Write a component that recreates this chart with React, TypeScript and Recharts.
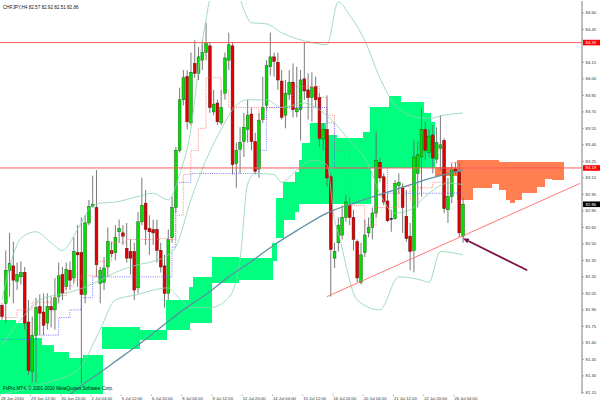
import React from "react";
import { ComposedChart, Bar, Line, XAxis, YAxis, ReferenceLine } from "recharts";

const SYMBOL_INFO = "CHFJPY,H4  82.57 82.92 82.51 82.86";
const COPYRIGHT = "FxPro MT4, © 2001-2010 MetaQuotes Software Corp.";
const FONT = "'Liberation Sans', Arial, sans-serif";
const CHART_W = 600;
const CHART_H = 404;

// H4 candles, oldest first
const opens = [
  81.94, 81.96, 82.26, 82.3, 82.16, 82.2, 82.24, 81.79, 81.34, 81.67, 81.93, 81.88, 81.78, 81.93, 81.9, 82.02,
  82.22, 82.11, 82.26, 82.19, 82.42, 82.42, 82.04, 82.69, 82.84, 82.83, 82.14, 82.15, 82.29, 82.44, 82.42, 82.61,
  82.6, 82.46, 82.43, 82.43, 82.1, 82.7, 82.87, 82.64, 82.63, 82.63, 82.44, 82.3, 82.05, 82.56, 82.83, 83.35,
  83.81, 84.02, 83.6, 84.14, 84.05, 84.17, 84.24, 84.3, 83.7, 83.78, 83.6, 83.87, 84.17, 84.3, 83.23, 83.36,
  83.43, 83.54, 83.68, 83.43, 83.18, 83.63, 83.76, 84.11, 84.2, 84.15, 83.98, 83.67, 83.86, 83.97, 83.7, 83.72,
  84.0, 83.9, 83.83, 83.93, 83.83, 83.45, 83.54, 83.11, 82.37, 82.51, 82.58, 82.74, 82.85, 82.74, 82.52, 82.15,
  82.42, 82.6, 82.65, 82.78, 83.24, 83.11, 82.89, 82.73, 82.73, 83.03, 83.01, 82.75, 82.57, 82.44, 83.14, 83.29,
  83.54, 83.33, 83.49, 83.27, 83.37, 83.44, 82.81, 82.93, 83.18, 83.15, 82.57,
];
const highs = [
  81.96, 82.44, 82.6, 82.52, 82.33, 82.34, 82.29, 81.99, 81.84, 82.01, 82.04, 82.05, 82.05, 82.02, 82.19, 82.33,
  82.29, 82.33, 82.34, 82.56, 82.67, 82.74, 82.76, 82.9, 83.12, 83.17, 82.29, 82.38, 82.65, 82.52, 82.67, 82.72,
  82.67, 82.69, 82.54, 82.51, 82.79, 83.1, 82.99, 82.76, 82.72, 82.72, 82.51, 82.4, 82.63, 82.93, 83.38, 83.92,
  84.08, 84.08, 84.24, 84.35, 84.29, 84.35, 84.51, 84.33, 83.9, 83.81, 83.9, 84.24, 84.42, 84.33, 83.42, 83.56,
  83.69, 83.81, 83.74, 83.51, 83.69, 84.02, 84.17, 84.42, 84.24, 84.24, 84.08, 83.99, 84.08, 84.14, 84.11, 84.08,
  84.33, 84.05, 84.06, 84.02, 83.87, 83.6, 83.85, 83.14, 82.51, 82.74, 82.85, 82.94, 82.92, 82.81, 82.54, 82.51,
  82.72, 82.74, 82.83, 83.52, 83.28, 83.14, 82.96, 82.81, 83.08, 83.14, 83.05, 82.99, 82.69, 83.44, 83.43, 83.74,
  83.61, 83.54, 83.58, 83.56, 83.67, 83.46, 83.1, 83.23, 83.24, 83.24, 82.92,
];
const lows = [
  81.81, 81.78, 82.02, 81.96, 82.08, 82.13, 81.72, 81.31, 81.24, 81.24, 81.67, 81.67, 81.72, 81.74, 81.72, 81.96,
  81.99, 82.08, 82.08, 82.14, 82.11, 81.23, 81.96, 82.67, 82.83, 82.2, 81.96, 82.08, 82.2, 82.38, 82.35, 82.51,
  82.49, 82.33, 82.22, 81.99, 82.05, 82.67, 82.49, 82.4, 82.49, 82.33, 82.24, 81.92, 81.99, 82.51, 82.78, 83.33,
  83.76, 83.54, 83.58, 84.01, 83.99, 84.08, 84.17, 83.69, 83.67, 83.58, 83.58, 83.81, 84.08, 83.13, 83.01, 83.14,
  83.29, 83.42, 83.35, 83.13, 83.1, 83.6, 83.72, 84.03, 84.02, 83.9, 83.63, 83.55, 83.81, 83.65, 83.65, 83.44,
  83.81, 83.63, 83.61, 83.74, 83.38, 83.35, 83.02, 82.02, 82.28, 82.43, 82.54, 82.7, 82.67, 82.44, 82.15, 82.13,
  82.38, 82.56, 82.54, 82.74, 83.06, 82.85, 82.7, 82.61, 82.72, 82.96, 82.6, 82.52, 82.26, 82.24, 82.83, 82.93,
  83.26, 83.29, 83.14, 83.23, 83.17, 82.78, 82.69, 82.87, 83.13, 82.56, 82.51,
];
const closes = [
  81.84, 82.26, 82.32, 82.17, 82.22, 82.24, 81.78, 81.35, 81.67, 81.92, 81.87, 81.76, 81.93, 81.9, 82.01, 82.21,
  82.05, 82.27, 82.17, 82.43, 82.4, 82.04, 82.69, 82.84, 82.86, 82.31, 82.26, 82.28, 82.52, 82.41, 82.56, 82.64,
  82.57, 82.37, 82.37, 82.08, 82.7, 82.85, 82.63, 82.61, 82.6, 82.44, 82.29, 82.05, 82.54, 82.83, 83.35, 83.81,
  84.01, 83.61, 84.06, 84.05, 84.2, 84.24, 84.32, 83.74, 83.77, 83.61, 83.74, 84.19, 84.31, 83.22, 83.35, 83.42,
  83.56, 83.67, 83.43, 83.16, 83.62, 83.74, 84.12, 84.2, 84.16, 83.99, 83.65, 83.87, 83.97, 83.72, 83.73, 83.99,
  83.89, 83.83, 83.92, 83.81, 83.46, 83.54, 83.1, 82.45, 82.43, 82.67, 82.74, 82.88, 82.74, 82.54, 82.19, 82.4,
  82.58, 82.65, 82.78, 83.26, 83.1, 82.88, 82.71, 82.73, 83.05, 83.06, 82.83, 82.55, 82.43, 83.29, 83.31, 83.54,
  83.35, 83.48, 83.28, 83.42, 83.4, 82.82, 82.93, 83.17, 83.16, 82.6, 82.86,
];

// one time label every 8 bars
const timeLabels = [
  "28 Jun 2010", "29 Jun 12:00", "30 Jun 20:00", "2 Jul 04:00", "5 Jul 12:00", "6 Jul 20:00", "8 Jul 04:00",
  "9 Jul 12:00", "12 Jul 20:00", "14 Jul 04:00", "15 Jul 12:00", "16 Jul 20:00", "20 Jul 04:00", "21 Jul 12:00",
  "22 Jul 20:00", "26 Jul 04:00",
];
const LABEL_EVERY = 8;

const priceTicks = [
  84.6, 84.45, 84.15, 84.0, 83.85, 83.7, 83.55, 83.4, 83.25, 83.1, 82.95, 82.8, 82.65, 82.5, 82.35, 82.2, 82.05,
  81.9, 81.75, 81.6, 81.45, 81.3, 81.15,
];

const resistanceLevel = 84.33;
const supportLevel = 83.19;
const lastPrice = 82.86;

// Ichimoku cloud, already shifted 26 bars ahead: [first bar, upper edge, lower edge]
const cloudUp = [
  [0, 81.81, 81.0], [4, 81.78, 81.0], [7, 81.64, 81.0], [11, 81.58, 81.0], [14, 81.52, 81.0], [18, 81.46, 81.0],
  [22, 81.49, 81.0], [27, 81.74, 81.54], [37, 81.72, 81.63], [44, 81.99, 81.72], [50, 82.11, 81.78],
  [51, 82.2, 81.78], [56, 82.38, 82.14], [63, 82.37, 82.17], [72, 82.51, 82.34], [73, 82.92, 82.55],
  [75, 83.06, 82.72], [78, 83.15, 82.79], [79, 83.26, 82.86], [80, 83.42, 82.86], [82, 83.6, 82.86],
  [86, 83.49, 82.86], [89, 83.46, 82.86], [96, 83.52, 82.86], [98, 83.74, 83.19], [103, 83.84, 83.19],
  [106, 83.79, 83.19], [112, 83.69, 83.19], [114, 83.61, 83.19],
];
const cloudDown = [
  [115, 83.2, 83.12], [121, 83.26, 82.9], [125, 83.26, 83.01], [130, 83.26, 83.04], [132, 83.24, 82.99],
  [134, 83.24, 82.9], [135, 83.24, 82.87], [136, 83.24, 82.9], [138, 83.24, 82.96], [142, 83.24, 83.02],
  [144, 83.24, 83.09], [146, 83.24, 83.08],
];
const CLOUD_END = 149;

// tenkan-sen / kijun-sen as steps: [first bar, level]
const tenkan = [
  [0, 81.83], [4, 81.9], [8, 81.97], [14, 82.03], [17, 82.12], [19, 82.17], [21, 82.21], [25, 82.34],
  [29, 82.51], [33, 82.54], [42, 82.55], [44, 82.54], [46, 82.76], [48, 83.13], [50, 83.35], [52, 83.55],
  [54, 84.01], [58, 83.9], [60, 83.74], [68, 83.63], [70, 83.74], [77, 83.93], [84, 83.83], [86, 83.67],
  [88, 83.35], [92, 82.85], [96, 82.67], [99, 82.83], [105, 83.02], [108, 82.9], [110, 83.01], [114, 83.06],
  [119, 83.24],
];
const kijun = [
  [0, 81.63], [9, 81.67], [15, 81.83], [18, 81.9], [21, 82.01], [24, 82.2], [45, 82.47], [46, 83.06],
  [50, 83.14], [68, 83.35], [70, 83.74], [86, 83.6], [88, 83.19], [102, 82.96],
];

// bollinger bands and the slow moving average: [bar, level]
const bandUpper = [
  [0, 81.99], [3, 82.4], [5, 82.55], [9, 82.61], [13, 82.51], [16, 82.44], [20, 82.63], [23, 82.81], [26, 82.87],
  [30, 82.88], [36, 82.93], [40, 82.96], [44, 82.9], [47, 83.13], [50, 83.54], [52, 84.08], [54, 84.54],
  [57, 84.95], [61, 84.95], [64, 84.63], [66, 84.51], [70, 84.5], [74, 84.42], [82, 84.33], [86, 84.31],
  [89, 84.7], [92, 84.58], [96, 84.35], [100, 84.01], [104, 83.76], [108, 83.67], [113, 83.64], [117, 83.67],
  [122, 83.69],
];
const bandMiddle = [
  [0, 81.58], [5, 81.81], [10, 81.99], [15, 82.04], [20, 82.08], [26, 82.17], [30, 82.24], [36, 82.31],
  [40, 82.34], [44, 82.4], [46, 82.47], [50, 82.9], [54, 83.26], [58, 83.54], [62, 83.76], [65, 83.81],
  [70, 83.81], [74, 83.74], [80, 83.78], [84, 83.72], [88, 83.6], [92, 83.44], [95, 83.33], [97, 83.22],
  [100, 82.96], [104, 82.78], [108, 82.81], [112, 82.93], [118, 83.05], [122, 83.04],
];
const bandLower = [
  [0, 81.13], [10, 81.22], [20, 81.35], [26, 81.72], [30, 81.99], [36, 82.04], [40, 82.08], [44, 82.1],
  [46, 82.04], [50, 81.92], [55, 81.92], [60, 82.01], [63, 82.35], [65, 83.04], [67, 83.14], [72, 83.13],
  [74, 83.06], [78, 83.17], [82, 83.26], [86, 83.22], [88, 82.72], [89, 82.6], [94, 81.99], [100, 81.9],
  [105, 82.2], [111, 82.17], [113, 82.15], [116, 82.43], [122, 82.4],
];
const slowMa = [
  [18, 81.13], [21, 81.21], [26, 81.33], [30, 81.43], [36, 81.58], [42, 81.74], [48, 81.9], [54, 82.04],
  [60, 82.2], [66, 82.34], [72, 82.49], [78, 82.62], [86, 82.78], [94, 82.88], [102, 82.97], [110, 83.06],
  [116, 83.12], [122, 83.17],
];

// objects drawn by hand on the chart: [bar, price]
const trendLine = [[86, 82.02], [153, 83.05]];
const arrowLine = [[139, 82.26], [122, 82.55]];

const SLOTS = 154;

const stepAt = (steps: number[][], i: number) => {
  let found: number[] | null = null;
  for (const s of steps) if (s[0] <= i) found = s;
  return found;
};

const rows: any[] = Array.from({ length: SLOTS }, (_, i) => {
  const row: any = { i };
  if (i < opens.length) {
    row.o = opens[i];
    row.h = highs[i];
    row.l = lows[i];
    row.c = closes[i];
    row.hl = [lows[i], highs[i]];
  }
  if (i < CLOUD_END) {
    const bear = i >= cloudDown[0][0];
    const s = stepAt(bear ? cloudDown : cloudUp, i);
    if (s) {
      row.cloud = [s[2], s[1]];
      row.cloudFill = bear ? "#ff7f50" : "#00ff7f";
    }
  }
  return row;
});
const lastBar = opens.length - 1;
for (const [b, v] of tenkan) rows[b].tenkan = v;
rows[lastBar].tenkan = stepAt(tenkan, lastBar)![1];
for (const [b, v] of kijun) rows[b].kijun = v;
rows[lastBar].kijun = stepAt(kijun, lastBar)![1];
for (const [b, v] of bandUpper) rows[b].bbU = v;
for (const [b, v] of bandMiddle) rows[b].bbM = v;
for (const [b, v] of bandLower) rows[b].bbL = v;
for (const [b, v] of slowMa) rows[b].ma = v;

const DOMAIN: [number, number] = [81.135, 84.708];

const Candle = (props: any) => {
  const { x, y, width, height, payload } = props;
  if (!payload || payload.o == null) return null;
  const top = Math.min(y, y + height);
  const span = Math.abs(height);
  const range = payload.h - payload.l;
  const toY = (p: number) => (range > 0 ? top + ((payload.h - p) / range) * span : top);
  const cx = x + width / 2;
  const rising = payload.c > payload.o;
  const flat = payload.c === payload.o;
  const bodyTop = toY(Math.max(payload.o, payload.c));
  const bodyH = Math.max(toY(Math.min(payload.o, payload.c)) - bodyTop, 0.9);
  return (
    <g>
      <line x1={cx} x2={cx} y1={top} y2={top + span} stroke="#6a6a6a" strokeWidth={0.9} />
      <rect
        x={cx - 1.4}
        y={bodyTop}
        width={2.8}
        height={bodyH}
        fill={flat ? "#111" : rising ? "#00e000" : "#e00000"}
        stroke={flat ? "#111" : rising ? "#1f5f1f" : "#5f1010"}
        strokeWidth={0.5}
      />
    </g>
  );
};

const CloudSlice = (props: any) => {
  const { x, y, width, height, payload } = props;
  if (!payload || !payload.cloud) return null;
  return (
    <rect
      x={x}
      y={Math.min(y, y + height)}
      width={width + 0.4}
      height={Math.abs(height)}
      fill={payload.cloudFill}
      shapeRendering="crispEdges"
    />
  );
};

const PriceTick = (props: any) => {
  const { x, y, payload } = props;
  return (
    <g>
      <line x1={x} x2={x + 2} y1={y} y2={y} stroke="#777" strokeWidth={0.6} />
      <text x={x + 3.5} y={y + 1.5} fontSize={4.3} fill="#333" fontFamily={FONT}>
        {Number(payload.value).toFixed(2)}
      </text>
    </g>
  );
};

// the label row sits in the strip under the plot; its baseline is kept inside the picture
const TIME_BASELINE = CHART_H - 4.2;

const TimeTick = (props: any) => {
  const { x, payload } = props;
  const label = timeLabels[Math.round(payload.value / LABEL_EVERY)];
  return (
    <g>
      <line x1={x - 1.5} x2={x - 1.5} y1={TIME_BASELINE - 5.2} y2={TIME_BASELINE - 3.8} stroke="#777" strokeWidth={0.6} />
      <text x={x - 1} y={TIME_BASELINE} fontSize={4.2} fill="#333" fontFamily={FONT}>
        {label}
      </text>
    </g>
  );
};

const priceBox = (text: string, bg: string) => (props: any) => {
  const vb = props.viewBox || {};
  const x = (vb.x ?? 0) + (vb.width ?? 0);
  const y = vb.y ?? 0;
  return (
    <g>
      <rect x={x + 1} y={y - 2.8} width={17} height={5.6} fill={bg} />
      <text x={x + 3.5} y={y + 1.5} fontSize={4.3} fill="#fff" fontFamily={FONT}>
        {text}
      </text>
    </g>
  );
};

const ArrowShape = (props: any) => {
  const { x1, y1, x2, y2 } = props;
  if ([x1, y1, x2, y2].some((v) => v == null || Number.isNaN(v))) return null;
  const ang = Math.atan2(y2 - y1, x2 - x1);
  const len = 6;
  const half = 2.6;
  const bx = x2 - len * Math.cos(ang);
  const by = y2 - len * Math.sin(ang);
  const px = -Math.sin(ang) * half;
  const py = Math.cos(ang) * half;
  return (
    <g>
      <line x1={x1} y1={y1} x2={bx} y2={by} stroke="#7a1048" strokeWidth={1.8} />
      <polygon points={`${x2},${y2} ${bx + px},${by + py} ${bx - px},${by - py}`} fill="#7a1048" />
    </g>
  );
};

export default function App() {
  return (
    <div style={{ position: "absolute", left: 0, top: 0, width: CHART_W, height: CHART_H, background: "#fff" }}>
      <ComposedChart
        width={CHART_W}
        height={CHART_H}
        data={rows}
        margin={{ top: 1, right: 0, bottom: 0, left: 0 }}
        barCategoryGap={0}
        barGap={0}
      >
        <XAxis
          xAxisId="x"
          dataKey="i"
          type="category"
          height={10}
          ticks={timeLabels.map((_, k) => k * LABEL_EVERY)}
          interval={0}
          tick={<TimeTick />}
          tickLine={false}
          tickSize={0}
          tickMargin={0}
          axisLine={{ stroke: "#808080" }}
        />
        <XAxis xAxisId="c" dataKey="i" type="category" hide />
        <XAxis
          xAxisId="t"
          dataKey="i"
          type="category"
          orientation="top"
          height={0}
          tick={false}
          tickLine={false}
          axisLine={{ stroke: "#9a9a9a" }}
        />
        <YAxis
          yAxisId="r"
          orientation="right"
          type="number"
          width={18}
          domain={DOMAIN}
          allowDataOverflow
          ticks={priceTicks}
          interval={0}
          tick={<PriceTick />}
          tickLine={false}
          tickSize={0}
          tickMargin={0}
          axisLine={{ stroke: "#808080" }}
        />
        <YAxis
          yAxisId="l"
          orientation="left"
          type="number"
          width={0}
          domain={DOMAIN}
          allowDataOverflow
          tick={false}
          tickLine={false}
          axisLine={{ stroke: "#9a9a9a" }}
        />

        <Line xAxisId="x" yAxisId="r" dataKey="tenkan" type="stepAfter" connectNulls dot={false}
          stroke="#ff6a6a" strokeWidth={0.8} strokeDasharray="1 1.2" isAnimationActive={false} />
        <Line xAxisId="x" yAxisId="r" dataKey="kijun" type="stepAfter" connectNulls dot={false}
          stroke="#5a5aff" strokeWidth={0.8} strokeDasharray="1 1.2" isAnimationActive={false} />

        <Bar xAxisId="c" yAxisId="r" dataKey="cloud" shape={<CloudSlice />} isAnimationActive={false} />

        <Line xAxisId="x" yAxisId="r" dataKey="bbU" type="monotone" connectNulls dot={false}
          stroke="#8ad3ad" strokeWidth={0.8} isAnimationActive={false} />
        <Line xAxisId="x" yAxisId="r" dataKey="bbM" type="monotone" connectNulls dot={false}
          stroke="#8ad3ad" strokeWidth={0.8} isAnimationActive={false} />
        <Line xAxisId="x" yAxisId="r" dataKey="bbL" type="monotone" connectNulls dot={false}
          stroke="#8ad3ad" strokeWidth={0.8} isAnimationActive={false} />
        <Line xAxisId="x" yAxisId="r" dataKey="ma" type="monotone" connectNulls dot={false}
          stroke="#5a93a3" strokeWidth={1.3} isAnimationActive={false} />

        <ReferenceLine xAxisId="x" yAxisId="r" y={resistanceLevel} stroke="#ff5a5a" strokeWidth={1}
          label={priceBox(resistanceLevel.toFixed(2), "#ff0000")} />
        <ReferenceLine xAxisId="x" yAxisId="r" y={supportLevel} stroke="#ff5a5a" strokeWidth={1}
          label={priceBox(supportLevel.toFixed(2), "#ff0000")} />
        <ReferenceLine xAxisId="x" yAxisId="r" y={lastPrice} stroke="none" strokeOpacity={0}
          label={priceBox(lastPrice.toFixed(2), "#000000")} />
        <ReferenceLine xAxisId="x" yAxisId="r" stroke="#ff6a6a" strokeWidth={0.9}
          segment={trendLine.map(([b, p]) => ({ x: b, y: p }))} />
        <ReferenceLine xAxisId="x" yAxisId="r" stroke="#7a1048"
          segment={arrowLine.map(([b, p]) => ({ x: b, y: p }))} shape={ArrowShape} />

        <Bar xAxisId="x" yAxisId="r" dataKey="hl" shape={<Candle />} isAnimationActive={false} />
      </ComposedChart>
      <svg width={CHART_W} height={CHART_H} style={{ position: "absolute", left: 0, top: 0, pointerEvents: "none" }}>
        <text x={3} y={8.5} fontSize={4.6} fill="#111" fontFamily={FONT}>{SYMBOL_INFO}</text>
        <text x={3} y={390} fontSize={4.6} fill="#111" fontFamily={FONT}>{COPYRIGHT}</text>
      </svg>
    </div>
  );
}
